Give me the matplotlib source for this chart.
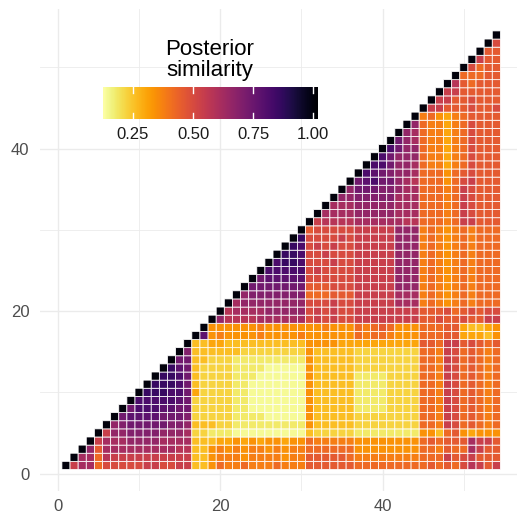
import numpy as np
import matplotlib.pyplot as plt

plt.rcParams['font.family'] = ['Liberation Sans', 'DejaVu Sans']

n_items = 54

# colour levels used to read the tiles off the picture
level_codes = "0123456789abcdefghij"
level_values = [0.14, 0.18, 0.22, 0.26, 0.30, 0.34, 0.38, 0.42, 0.46, 0.50,
                0.54, 0.58, 0.62, 0.66, 0.70, 0.74, 0.78, 0.82, 0.86, 0.90]

# row i (item i) vs items i+1 .. 54, diagonal is 1
sim_rows = [
    "acc799999aa99aa 33 576676667666 888888 77777777 787879ba8a",
    "cc7baaaaaaaaaa 33 566656666566 888887 66666666 777a89a888",
    "d8cccccccccbb 33 565656656566 777777 55555555 776877ca88",
    "acccddddcccc 33 344545455455 766666 55555555 787888caa8",
    "addeeeedddc 22 111000000000 322222 11111111 5537854555",
    "defffffeed 33 322111111111 533333 22222222 776a978767",
    "fggggfffe 22 222111100000 533333 22222222 776a978767",
    "fhhhggff 22 222110000000 533333 11112222 776a978767",
    "hhhhhgf 22 222110000000 533333 11112222 776a978767",
    "iiihhf 42 222110000000 533333 11112222 776a978767",
    "iiihf 32 222110000000 533333 11112222 776a978767",
    "iihf 32 222111000000 533333 11112222 776a978767",
    "igf 32 222111100000 533333 22222222 776a978767",
    "ff 33 222111111111 533333 22222222 776a978767",
    "e 33 333322222222 533333 22222222 776a978767",
    "33 443333333333 555544 44444444 887aa89878",
    "g 565555655556 555555 76776555 7778844435",
    "555555655555 556555 76787555 7778843345",
    "dbbbbcccccc 9a9a99 aaaaaaaa 88988988aa",
    "bccccddddd 9a9a99 aaaaaaaa 8889789899",
    "cdddddddd 999a99 aaaaaccc 6765676777",
    "deeeeeee 777888 aaaaaccc 6765676777",
    "fffffff 888999 aaaaaddd 6765676777",
    "fggggg 999999 aaaaaddd 6765676777",
    "hhhhh 9a9999 aaaaaddd 6765676777",
    "hiih 999a99 aaaaaddd 6765676777",
    "iih 99a999 aaaaaddd 6765676777",
    "ih 9a9a99 aaaaaddd 6765676777",
    "i 9999a9 aaaaaddd 6765676777",
    "899999 aaaaaddd 6765676777",
    "abbbb ccccccbb 77767aa888",
    "cccc dddddccc 77767a9888",
    "ccc dddddccc 77767a9888",
    "dd eeeeeccc 77767a9888",
    "d fffeedcc 77767a9888",
    "fghffdcb 777579a888",
    "hgfeddc 7775789888",
    "hhfddc 7664679888",
    "hfddd 7664679888",
    "hfdd 7664679888",
    "fdc 7664679888",
    "dc 7664679888",
    "d 7664679888",
    "6754678888",
    "aa8889889",
    "aa889888",
    "aa88888",
    "b87888",
    "77788",
    "9788",
    "a88",
    "88",
    "9",
]

cbar_ticks = [0.25, 0.50, 0.75, 1.00]
vmin, vmax = 0.125, 1.02

# build the matrix (only x >= y is shown)
sim = np.full((n_items, n_items), np.nan)
for i in range(n_items):
    sim[i, i] = 1.0
for i, row in enumerate(sim_rows):
    codes = row.replace(" ", "")
    assert len(codes) == n_items - 1 - i, (i, len(codes))
    for k, c in enumerate(codes):
        sim[i, i + 1 + k] = level_values[level_codes.index(c)]

W, H = 517, 515
fig = plt.figure(figsize=(W / 100, H / 100), dpi=100)
ax = fig.add_axes([40 / W, (H - 491.4) / H, 477 / W, 482.4 / H])

edges = np.arange(0.5, n_items + 1, 1)
cmap = plt.get_cmap('inferno_r')
# pcolor leaves masked cells out entirely (no white edges over the grid)
ax.pcolor(edges, edges, np.ma.masked_invalid(sim), cmap=cmap,
          vmin=vmin, vmax=vmax, edgecolor='white', linewidth=0.55, zorder=2)

ax.set_xlim(-2.2, -2.2 + 477 / 8.12)
ax.set_ylim(-2.2, 57.2)
ax.set_xticks([0, 20, 40])
ax.set_yticks([0, 20, 40])
ax.set_xticks([10, 30, 50], minor=True)
ax.set_yticks([10, 30, 50], minor=True)
ax.grid(which='major', color='#ebebeb', linewidth=1.0, linestyle='-', zorder=0)
ax.grid(which='minor', color='#ebebeb', linewidth=0.6, linestyle='-', zorder=0)
ax.set_axisbelow(True)
ax.tick_params(which='both', length=0)
ax.tick_params(axis='x', which='major', pad=5.5, labelsize=12, labelcolor='#4d4d4d')
ax.tick_params(axis='y', which='major', pad=7.5, labelsize=12, labelcolor='#4d4d4d')
for s in ax.spines.values():
    s.set_visible(False)

# legend: colour bar with title
cax = fig.add_axes([103 / W, (H - 119) / H, 215 / W, 32.3 / H])
grad = np.linspace(vmin, vmax, 300)[None, :]
cax.imshow(grad, extent=[vmin, vmax, 0, 1], aspect='auto', cmap=cmap,
           vmin=vmin, vmax=vmax)
for t in cbar_ticks:
    cax.plot([t, t], [0, 0.2], color='white', linewidth=1)
    cax.plot([t, t], [0.8, 1], color='white', linewidth=1)
cax.set_xlim(vmin, vmax)
cax.set_ylim(0, 1)
cax.set_yticks([])
cax.set_xticks(cbar_ticks)
cax.set_xticklabels(["%.2f" % t for t in cbar_ticks])
cax.tick_params(length=0, pad=6, labelsize=12, labelcolor='#1a1a1a')
for s in cax.spines.values():
    s.set_visible(False)

fig.text(210 / W, 1 - 81 / H, "Posterior\nsimilarity", ha='center', va='bottom',
         fontsize=16, linespacing=1.0, color='black')

fig.savefig('out.png', dpi=100)
